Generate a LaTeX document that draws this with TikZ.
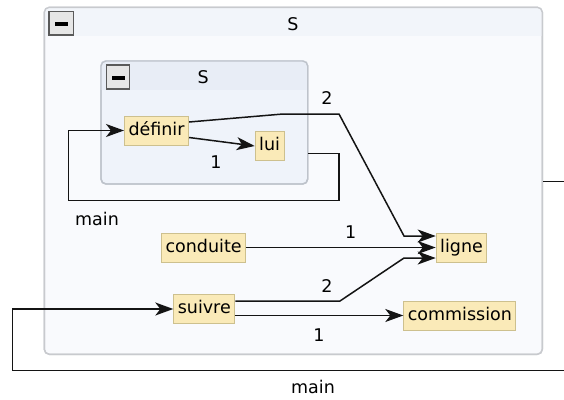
\documentclass[tikz,border=0pt]{standalone}
\usepackage{fontspec}
\setmainfont{DejaVu Sans}
\usetikzlibrary{arrows.meta}
\definecolor{nodefill}{RGB}{250,234,184}
\definecolor{nodeline}{RGB}{205,192,142}
\definecolor{outerfill}{RGB}{249,250,253}
\definecolor{outerhdr}{RGB}{242,245,250}
\definecolor{outerline}{RGB}{200,202,206}
\definecolor{innerfill}{RGB}{239,243,250}
\definecolor{innerhdr}{RGB}{232,237,246}
\definecolor{innerline}{RGB}{190,195,203}
\definecolor{btnfill}{RGB}{230,230,230}
\definecolor{btnline}{RGB}{90,90,90}
\definecolor{edgecol}{RGB}{20,20,20}
\begin{document}
\begin{tikzpicture}[x=1pt,y=-1pt,
  every node/.style={font=\fontsize{17.5}{20}\selectfont},
  group/.style={draw, line width=1.4pt, rounded corners=5pt, inner sep=0pt},
  btn/.style={draw=btnline, fill=btnfill, line width=1.3pt, inner sep=0pt},
  minusbar/.style={fill=black, inner sep=0pt, minimum width=12.6pt, minimum height=4pt},
  fn/.style={draw=nodeline, fill=nodefill, line width=1pt, inner xsep=4pt, inner ysep=0pt,
    minimum height=29pt, text height=13pt, text depth=4pt, anchor=west},
  lbl/.style={inner sep=0pt, text height=12.8pt, text depth=0pt},
  conn/.style={draw=edgecol, line width=1.5pt},
  arr/.style={conn, -{Stealth[length=18pt,width=13pt,inset=5pt]}}]
\useasboundingbox (0,0) rectangle (564,399);
\clip (0,0) rectangle (564,399);
% outer group
\node[group, draw=outerline, fill=outerfill, minimum width=498pt, minimum height=347pt] (outer) at (293.3,180.8) {};
\begin{scope}
  \clip[rounded corners=5pt] (outer.north west) rectangle (outer.south east);
  \fill[outerhdr] (outer.north west) rectangle (542.3,36);
\end{scope}
\node[group, draw=outerline, minimum width=498pt, minimum height=347pt] at (outer.center) {};
\node[btn, minimum width=24.3pt, minimum height=23.3pt] (btnA) at (61.2,23.4) {};
\node[minusbar] at ([xshift=0.5pt,yshift=-1pt]btnA.center) {};
\node[lbl] (titleA) at (293,24.5) {S};
% inner group
\node[group, draw=innerline, fill=innerfill, minimum width=206.7pt, minimum height=123pt] (inner) at (204.35,122.5) {};
\begin{scope}
  \clip[rounded corners=5pt] (inner.north west) rectangle (inner.south east);
  \fill[innerhdr] (inner.north west) rectangle (307.7,90);
\end{scope}
\node[group, draw=innerline, minimum width=206.7pt, minimum height=123pt] at (inner.center) {};
\node[btn, minimum width=22.6pt, minimum height=24pt] (btnB) at (118,77) {};
\node[minusbar] at ([xshift=0.5pt,yshift=-1pt]btnB.center) {};
\node[lbl] (titleB) at (203.3,76.7) {S};
% nodes
\node[fn] (defn) at (124,130.5) {définir};
\node[fn] (lui) at (254.7,146) {lui};
\node[fn] (cond) at (161,247.5) {conduite};
\node[fn] (ligne) at (435.7,247.5) {ligne};
\node[fn] (suiv) at (173.3,309) {suivre};
\node[fn] (comm) at (403.3,315.5) {commission};
% edges
\draw[arr] ([yshift=-7pt]defn.east) -- (lui.west);
\draw[arr] ([yshift=8.5pt]defn.east) -- (283,114) -- (339,114) -- (404,236) -- ([yshift=11.5pt]ligne.west);
\draw[arr] ([yshift=-31.2pt]inner.east) -- (339,153.7) -- (339,200.5) -- (68.7,200.5) |- (defn.west);
\draw[arr] (cond.east) -- (ligne.west);
\draw[arr] ([yshift=8pt]suiv.east) -- (340,301) -- (404,258) -- ([yshift=-10.5pt]ligne.west);
\draw[arr] (suiv.east |- comm.west) -- (comm.west);
\draw[arr] ([yshift=-0.9pt]outer.east) -- (580,181.7) -- (580,370.5) -- (12.3,370.5) |- (suiv.west);
% labels
\node[lbl] (l1) at (216,162) {1};
\node[lbl] (l2) at (327,98) {2};
\node[lbl] (l3) at (97,219) {main};
\node[lbl] (l4) at (350.7,231.7) {1};
\node[lbl] (l5) at (327,285.7) {2};
\node[lbl] (l6) at (319,335) {1};
\node[lbl] (l7) at (313,387) {main};
\end{tikzpicture}
\end{document}
